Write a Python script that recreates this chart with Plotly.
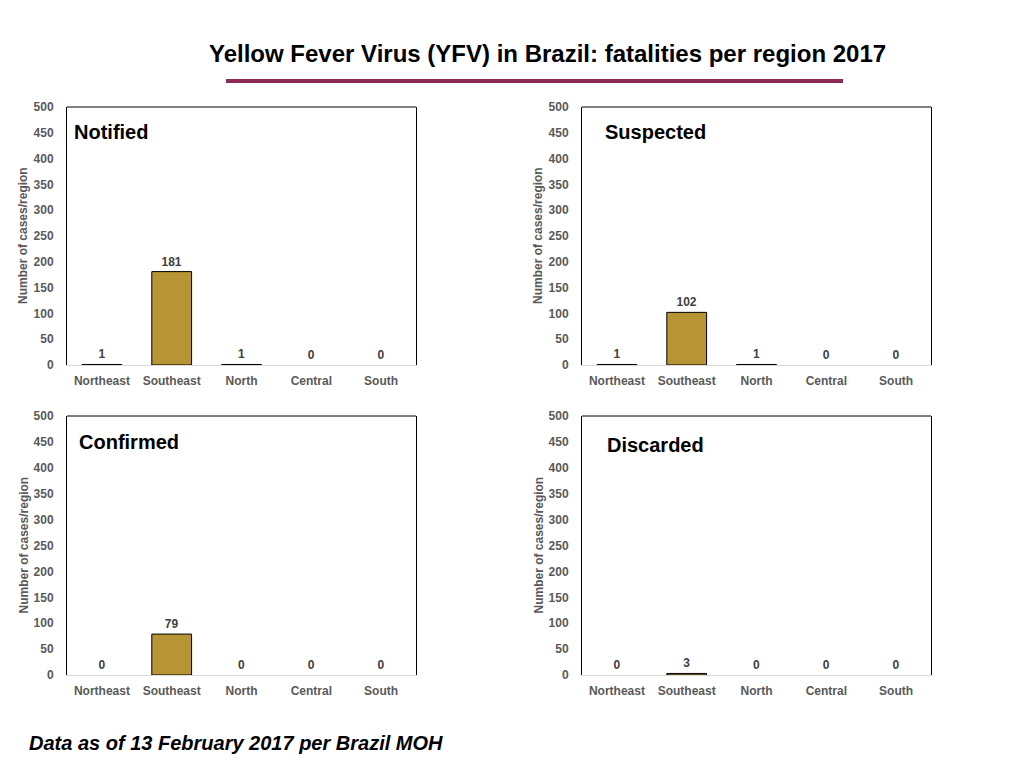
import plotly.graph_objects as go

regions = ["Northeast", "Southeast", "North", "Central", "South"]
notified = [1, 181, 1, 0, 0]
suspected = [1, 102, 1, 0, 0]
confirmed = [0, 79, 0, 0, 0]
discarded = [0, 3, 0, 0, 0]
panel_names = ["Notified", "Suspected", "Confirmed", "Discarded"]
y_ticks = [0, 50, 100, 150, 200, 250, 300, 350, 400, 450, 500]

title_text = "Yellow Fever Virus (YFV) in Brazil: fatalities per region 2017"
foot_text = "Data as of 13 February 2017 per Brazil MOH"
y_title = "Number of cases/region"

W, H = 1024, 768
OX, OY = 8, 8  # page body offset compensation
BAR_COLOR = "#B79434"
GRAY = "#595959"
FONT = "Liberation Sans, Arial, sans-serif"


def px(x):
    return (x - OX) / W


def py(y):
    return 1 - (y - OY) / H


# pixel boxes: (left, right, top, bottom)
boxes = [(67, 416, 107, 365), (582, 931, 107, 365),
         (67, 416, 416, 675), (582, 931, 416, 675)]
series = [notified, suspected, confirmed, discarded]
label_pos = [(0.013, 0.905), (0.06, 0.905), (0.03, 0.90), (0.066, 0.888)]

fig = go.Figure()
layout = dict(
    width=W, height=H, margin=dict(l=0, r=0, t=0, b=0, pad=0, autoexpand=False),
    paper_bgcolor="white", plot_bgcolor="white", showlegend=False,
    font=dict(family=FONT, color=GRAY),
)
annotations = []
shapes = []
for i, (vals, box) in enumerate(zip(series, boxes)):
    l, r, t, b = box
    xa = "xaxis" if i == 0 else f"xaxis{i+1}"
    ya = "yaxis" if i == 0 else f"yaxis{i+1}"
    xr = "x" if i == 0 else f"x{i+1}"
    yr = "y" if i == 0 else f"y{i+1}"
    fig.add_trace(go.Bar(
        x=regions, y=vals, xaxis=xr, yaxis=yr, width=0.57,
        marker=dict(color=BAR_COLOR,
                    line=dict(color="black", width=[1 if v > 0 else 0 for v in vals])),
        text=[str(v) for v in vals], textposition="outside",
        textfont=dict(family=FONT, size=12, color="#404040", weight="bold"),
        cliponaxis=False,
    ))
    layout[xa] = dict(
        domain=[px(l), px(r)], anchor=yr, showline=True, linecolor="#d9d9d9",
        linewidth=1, showgrid=False, ticks="", ticklabelstandoff=5,
        tickfont=dict(family=FONT, size=12, color=GRAY, weight="bold"),
        fixedrange=True, automargin=False,
    )
    layout[ya] = dict(
        domain=[py(b), py(t)], anchor=xr, range=[0, 500],
        tickvals=y_ticks, showline=True, linecolor="black", linewidth=1,
        mirror=True, showgrid=False, zeroline=False, ticks="",
        ticklabelstandoff=10,
        tickfont=dict(family=FONT, size=12, color=GRAY, weight="bold"),
        fixedrange=True, automargin=False,
    )
    shapes.append(dict(type="line", xref=f"{xr} domain", yref=f"{yr} domain",
                       x0=0, x1=1, y0=1, y1=1, line=dict(color="black", width=1)))
    annotations.append(dict(
        text=panel_names[i], xref=f"{xr} domain", yref=f"{yr} domain",
        x=label_pos[i][0], y=label_pos[i][1], xanchor="left", yanchor="middle",
        showarrow=False, font=dict(family=FONT, size=20, color="black", weight="bold"),
    ))
    annotations.append(dict(
        text=y_title, xref="paper", yref=f"{yr} domain",
        x=px(l - 44), y=0.5, xanchor="center", yanchor="middle", textangle=-90,
        showarrow=False, font=dict(family=FONT, size=12, color=GRAY, weight="bold"),
    ))

annotations.append(dict(
    text=title_text, xref="paper", yref="paper", x=px(547), y=py(53),
    xanchor="center", yanchor="middle", showarrow=False,
    font=dict(family=FONT, size=24, color="black", weight="bold"),
))
annotations.append(dict(
    text=foot_text, xref="paper", yref="paper", x=px(27), y=py(743),
    xanchor="left", yanchor="middle", showarrow=False,
    font=dict(family=FONT, size=20, color="black", weight="bold", style="italic"),
))
shapes.append(dict(type="rect", xref="paper", yref="paper",
                   x0=px(226), x1=px(843), y0=py(83), y1=py(79),
                   fillcolor="#8A2A55", line=dict(width=0)))

layout["annotations"] = annotations
layout["shapes"] = shapes
fig.update_layout(**layout)
fig.write_html("out.html")
